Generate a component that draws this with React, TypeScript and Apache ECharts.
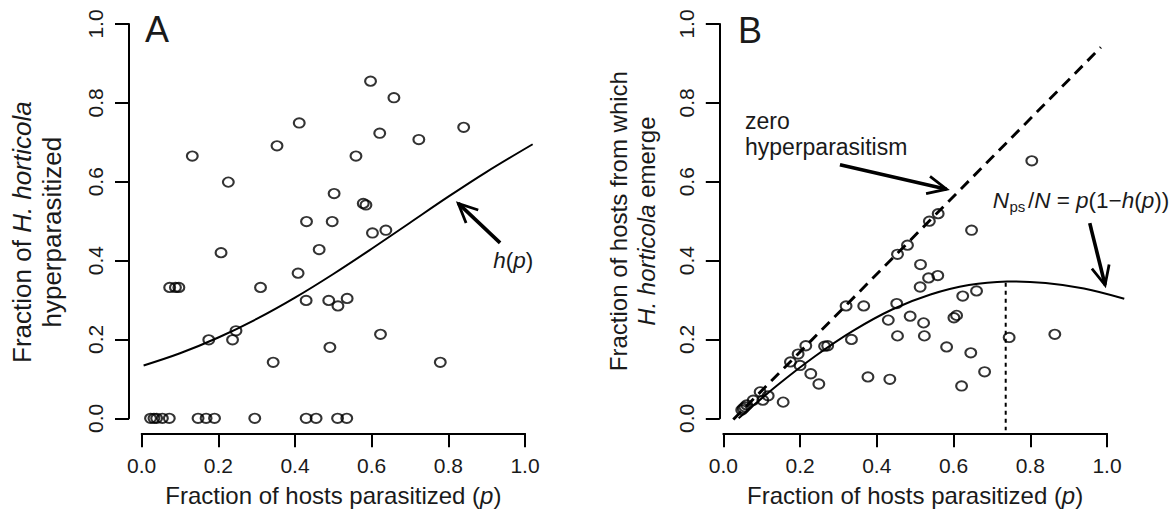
import React, { useEffect, useRef } from "react";
import * as echarts from "echarts";

// ---------- Panel A data: fraction of H. horticola hyperparasitized ----------
const aX = [
  0.597, 0.658, 0.411, 0.621, 0.840, 0.723, 0.132, 0.353, 0.559, 0.226,
  0.502, 0.578, 0.585, 0.430, 0.497, 0.602, 0.637, 0.463, 0.207, 0.408,
  0.073, 0.088, 0.097, 0.310, 0.429, 0.488, 0.536, 0.512, 0.246, 0.175,
  0.237, 0.623, 0.491, 0.343, 0.779,
  0.023, 0.032, 0.039, 0.054, 0.072, 0.147, 0.168, 0.190, 0.295, 0.429,
  0.455, 0.511, 0.535,
];
const aY = [
  0.855, 0.813, 0.749, 0.723, 0.738, 0.707, 0.665, 0.691, 0.665, 0.599,
  0.570, 0.545, 0.541, 0.499, 0.499, 0.470, 0.477, 0.428, 0.420, 0.368,
  0.332, 0.332, 0.332, 0.332, 0.299, 0.299, 0.304, 0.285, 0.222, 0.199,
  0.199, 0.213, 0.180, 0.142, 0.142,
  0, 0, 0, 0, 0, 0, 0, 0, 0, 0,
  0, 0, 0,
];
// fitted curve h(p)
const hCurveX = [0.005, 0.1, 0.2, 0.3, 0.4, 0.5, 0.6, 0.7, 0.8, 0.9, 1.02];
const hCurveY = [0.134, 0.165, 0.205, 0.252, 0.306, 0.366, 0.43, 0.496, 0.562, 0.625, 0.695];

// ---------- Panel B data: fraction of hosts from which H. horticola emerge ----------
const bX = [
  0.804, 0.560, 0.537, 0.647, 0.454, 0.480, 0.514, 0.535, 0.559, 0.513,
  0.660, 0.624, 0.320, 0.366, 0.452, 0.487, 0.430, 0.522, 0.601, 0.608,
  0.454, 0.524, 0.745, 0.864, 0.334, 0.215, 0.264, 0.272, 0.582, 0.645,
  0.195, 0.175, 0.200, 0.228, 0.681, 0.249, 0.377, 0.434, 0.621, 0.156,
  0.096, 0.117, 0.103, 0.078, 0.061, 0.056, 0.052, 0.048,
];
const bY = [
  0.653, 0.519, 0.500, 0.477, 0.416, 0.439, 0.390, 0.356, 0.362, 0.333,
  0.323, 0.310, 0.285, 0.285, 0.291, 0.259, 0.249, 0.242, 0.255, 0.261,
  0.209, 0.209, 0.205, 0.213, 0.200, 0.184, 0.183, 0.184, 0.181, 0.166,
  0.163, 0.143, 0.134, 0.113, 0.118, 0.087, 0.105, 0.099, 0.082, 0.041,
  0.067, 0.057, 0.046, 0.046, 0.034, 0.029, 0.025, 0.021,
];
// N_ps/N = p(1-h(p)) curve
const emergeCurveX = [0.04, 0.14, 0.24, 0.34, 0.44, 0.54, 0.64, 0.74, 0.84, 0.94, 1.045];
const emergeCurveY = [0.0, 0.083, 0.158, 0.223, 0.276, 0.314, 0.338, 0.347, 0.343, 0.329, 0.303];
// zero hyperparasitism line
const zeroLineX = [0.026, 0.984];
const zeroLineY = [-0.003, 0.941];
// dotted line at the curve maximum
const peakLineX = [0.736, 0.736];
const peakLineY = [0.344, -0.03];

const FONT = "'Liberation Sans', Arial, Helvetica, sans-serif";
const TXT = "#1a1a1a";
const CIRCLE = "path://M0,-1A1,1 0 1,1 0,1A1,1 0 1,1 0,-1Z";

const zip = (xs: number[], ys: number[]) => xs.map((x, i) => [x, ys[i]]);

function xAxisCfg(gridIndex: number) {
  return {
    type: "value",
    gridIndex,
    min: 0,
    max: 1,
    interval: 0.2,
    offset: 15,
    axisLine: { show: true, onZero: false, lineStyle: { color: "#000", width: 2 } },
    axisTick: { show: true, length: 14, lineStyle: { color: "#000", width: 2 } },
    axisLabel: {
      margin: 22,
      fontSize: 21,
      color: TXT,
      fontFamily: FONT,
      formatter: (v: number) => v.toFixed(1),
    },
    splitLine: { show: false },
    name: "Fraction of hosts parasitized ({i|p})",
    nameLocation: "middle",
    nameGap: 50,
    nameTextStyle: {
      fontSize: 24,
      color: TXT,
      fontFamily: FONT,
      rich: { i: { fontSize: 24, fontStyle: "italic", color: TXT, fontFamily: FONT } },
    },
  };
}

function yAxisCfg(
  gridIndex: number,
  offset: number,
  nameGap: number,
  name: string,
  size: number,
  shiftDown: number
) {
  const lh = size + 4;
  return {
    type: "value",
    gridIndex,
    min: 0,
    max: 1,
    interval: 0.2,
    offset,
    axisLine: { show: true, onZero: false, lineStyle: { color: "#000", width: 2 } },
    axisTick: { show: true, length: 14, lineStyle: { color: "#000", width: 2 } },
    axisLabel: {
      rotate: 90,
      margin: 23,
      fontSize: 21,
      color: TXT,
      fontFamily: FONT,
      formatter: (v: number) => v.toFixed(1),
    },
    splitLine: { show: false },
    name,
    nameLocation: "middle",
    nameRotate: 90,
    nameGap,
    nameTextStyle: {
      fontSize: size,
      lineHeight: lh,
      color: TXT,
      fontFamily: FONT,
      padding: [0, shiftDown * 2, 0, 0],
      rich: {
        n: { fontSize: size, lineHeight: lh, color: TXT, fontFamily: FONT },
        i: { fontSize: size, lineHeight: lh, fontStyle: "italic", color: TXT, fontFamily: FONT },
      },
    },
  };
}

// smooth curve drawn through the axes' scales without clipping at the grid edge
function curveSeries(g: number, xs: number[], ys: number[]) {
  return {
    type: "custom",
    coordinateSystem: "cartesian2d",
    xAxisIndex: g,
    yAxisIndex: g,
    data: zip(xs, ys),
    clip: false,
    silent: true,
    renderItem: (params: any, api: any) => {
      if (params.dataIndex !== 0) return null;
      const pts = xs.map((x, i) => api.coord([x, ys[i]]));
      return {
        type: "polyline",
        shape: { points: pts, smooth: 0.35 },
        style: { stroke: "#000", lineWidth: 2, fill: null },
      };
    },
  };
}

export default function App() {
  const ref = useRef<HTMLDivElement>(null);

  useEffect(() => {
    if (!ref.current) return;
    const chart = echarts.init(ref.current, undefined, { renderer: "svg" });
    const circleStyle = { color: "rgba(0,0,0,0)", borderColor: "#000", borderWidth: 2 };
    const option: any = {
      animation: false,
      backgroundColor: "#fff",
      grid: [
        { left: 141.7, top: 24, width: 383.3, height: 394.3, outerBoundsMode: "none" },
        { left: 723.3, top: 24, width: 383.7, height: 394.3, outerBoundsMode: "none" },
      ],
      xAxis: [xAxisCfg(0), xAxisCfg(1)],
      yAxis: [
        yAxisCfg(0, 12.7, 62, "{n|Fraction of }{i|H. horticola}\n{n|hyperparasitized}", 26, 11),
        yAxisCfg(1, 3.5, 59, "{n|Fraction of hosts from which}\n{i|H. horticola}{n| emerge}", 24, 0),
      ],
      series: [
        curveSeries(0, hCurveX, hCurveY),
        {
          type: "scatter",
          xAxisIndex: 0,
          yAxisIndex: 0,
          data: zip(aX, aY),
          symbol: CIRCLE,
          symbolSize: [10.8, 9.4],
          itemStyle: circleStyle,
          clip: false,
          silent: true,
        },
        {
          type: "line",
          xAxisIndex: 1,
          yAxisIndex: 1,
          data: zip(zeroLineX, zeroLineY),
          symbol: "none",
          clip: false,
          lineStyle: { color: "#000", width: 2.9, type: [11, 7] },
          silent: true,
        },
        curveSeries(1, emergeCurveX, emergeCurveY),
        {
          type: "line",
          xAxisIndex: 1,
          yAxisIndex: 1,
          data: zip(peakLineX, peakLineY),
          symbol: "none",
          clip: false,
          lineStyle: { color: "#000", width: 2, type: [4, 4] },
          silent: true,
        },
        {
          type: "scatter",
          xAxisIndex: 1,
          yAxisIndex: 1,
          data: zip(bX, bY),
          symbol: CIRCLE,
          symbolSize: [10.8, 9.4],
          itemStyle: circleStyle,
          clip: false,
          silent: true,
        },
      ],
    };
    chart.setOption(option);

    const px = (g: number, x: number, y: number) =>
      chart.convertToPixel({ xAxisIndex: g, yAxisIndex: g }, [x, y]) as number[];

    const arrow = (g: number, tail: number[], tip: number[]) => {
      const t = px(g, tail[0], tail[1]);
      const h = px(g, tip[0], tip[1]);
      const ang = Math.atan2(t[1] - h[1], t[0] - h[0]);
      const L = 21;
      const a = (25 * Math.PI) / 180;
      const p1 = [h[0] + L * Math.cos(ang + a), h[1] + L * Math.sin(ang + a)];
      const p2 = [h[0] + L * Math.cos(ang - a), h[1] + L * Math.sin(ang - a)];
      return [
        {
          type: "line",
          shape: { x1: t[0], y1: t[1], x2: h[0], y2: h[1] },
          style: { stroke: "#000", lineWidth: 3.6 },
          silent: true,
        },
        {
          type: "polyline",
          shape: { points: [p1, h, p2] },
          style: { stroke: "#000", lineWidth: 2.8, fill: null },
          silent: true,
        },
      ];
    };

    const text = (g: number, x: number, y: number, t: string, size: number, extra: any = {}) => {
      const p = px(g, x, y);
      return {
        type: "text",
        x: p[0],
        y: p[1],
        silent: true,
        style: {
          text: t,
          fontSize: size,
          fontFamily: FONT,
          fill: TXT,
          textAlign: "left",
          textVerticalAlign: "middle",
          ...extra,
        },
      };
    };

    const richItalic = (size: number) => ({
      n: { fontSize: size, fontFamily: FONT, fill: TXT, color: TXT },
      i: { fontSize: size, fontFamily: FONT, fontStyle: "italic", fill: TXT, color: TXT },
    });

    const np = px(1, 0.702, 0.5526);
    const graphic: any[] = [
      text(0, 0.0086, 0.985, "A", 36),
      text(1, 0.038, 0.984, "B", 36),
      text(0, 0.917, 0.399, "{i|h}{n|(}{i|p}{n|)}", 22.5, { rich: richItalic(22.5) }),
      ...arrow(0, [0.935, 0.445], [0.826, 0.545]),
      text(1, 0.0566, 0.753, "zero", 23),
      text(1, 0.0566, 0.688, "hyperparasitism", 23),
      ...arrow(1, [0.304, 0.643], [0.582, 0.581]),
      {
        type: "group",
        x: np[0],
        y: np[1],
        silent: true,
        children: [
          {
            type: "text",
            x: 0,
            y: 0,
            style: {
              text: "N",
              fontSize: 22.5,
              fontStyle: "italic",
              fontFamily: FONT,
              fill: TXT,
              textAlign: "left",
              textVerticalAlign: "middle",
            },
          },
          {
            type: "text",
            x: 16.8,
            y: 6.1,
            style: {
              text: "ps",
              fontSize: 15,
              fontFamily: FONT,
              fill: TXT,
              textAlign: "left",
              textVerticalAlign: "middle",
            },
          },
          {
            type: "text",
            x: 35.3,
            y: 0,
            style: {
              text: "{n|/}{i|N}{n| = }{i|p}{n|(1\u2212}{i|h}{n|(}{i|p}{n|))}",
              rich: richItalic(22.5),
              fontSize: 22.5,
              fontFamily: FONT,
              fill: TXT,
              textAlign: "left",
              textVerticalAlign: "middle",
            },
          },
        ],
      },
      ...arrow(1, [0.955, 0.495], [0.995, 0.338]),
    ];
    chart.setOption({ graphic });

    return () => chart.dispose();
  }, []);

  return (
    <div
      ref={ref}
      style={{ position: "fixed", left: 0, top: 0, width: 1175, height: 515, background: "#fff" }}
    />
  );
}
